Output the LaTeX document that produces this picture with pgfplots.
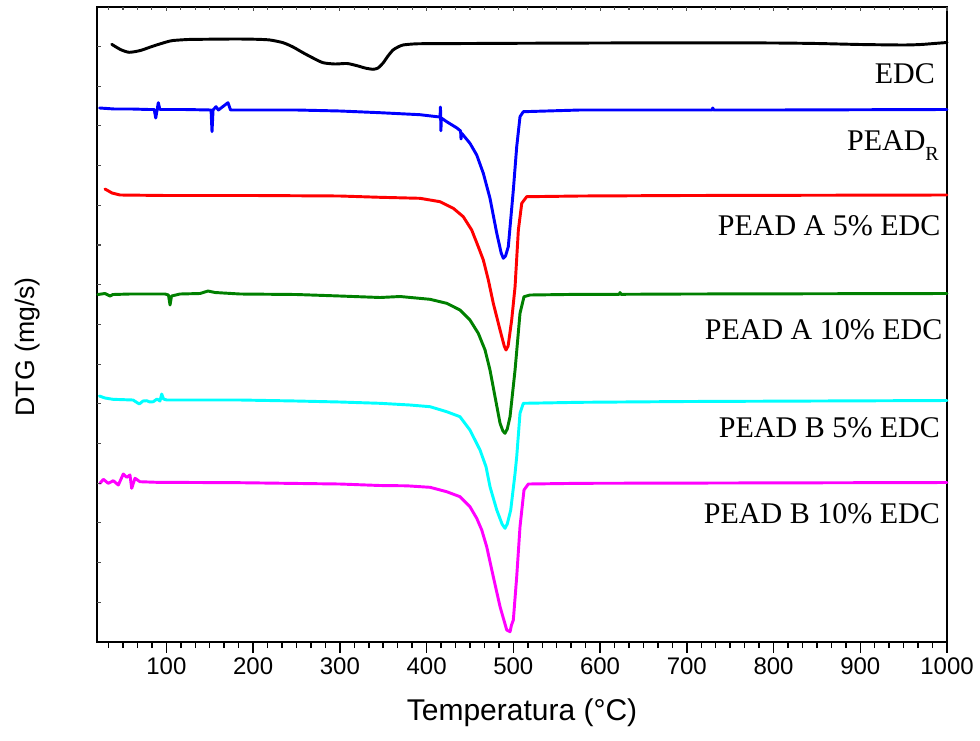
\documentclass[border=0pt]{standalone}
\usepackage{fontspec}
\setmainfont{Liberation Serif}
\newfontfamily\arial{Liberation Sans}
\usepackage{pgfplots}
\pgfplotsset{compat=1.18}
\definecolor{dgreen}{RGB}{0,128,0}
\definecolor{pcyan}{RGB}{0,255,255}
\definecolor{pmagenta}{RGB}{255,0,255}
\definecolor{pblue}{RGB}{0,0,255}
\definecolor{pred}{RGB}{255,0,0}
\begin{document}
\begin{tikzpicture}
\begin{axis}[
  scale only axis, width=637.5pt, height=476.25pt,
  xmin=20, xmax=1000, ymin=-642, ymax=-7,
  axis line style={line width=1.5pt},
  xtick={0,100,...,1000}, minor x tick num=5,
  xtick pos=bottom, tick align=outside,
  ytick=\empty,
  major tick length=8pt, minor tick length=4.5pt,
  every tick/.style={black, line width=1.1pt},
  ticklabel style={font=\arial\fontsize{18}{18}\selectfont},
  /pgf/number format/assume math mode=true,
  /pgf/number format/1000 sep={},
  xlabel={Temperatura (°C)},
  xlabel style={font=\arial\fontsize{22.5}{22.5}\selectfont, at={(axis description cs:0.5,-0.112)}, anchor=center},
  ylabel={DTG (mg/s)},
  ylabel style={font=\arial\fontsize{20}{20}\selectfont, at={(axis description cs:-0.0812,0.465)}, anchor=center},
  clip=false,
  every axis plot/.append style={line width=2.2pt, line join=round, line cap=round},
]
% EDC
\addplot[black, smooth, tension=0.4] coordinates {
(37,-44.3)(47,-49.5)(57,-52.3)(70,-50.5)(85,-46)(100,-42)(107.6,-40.5)(125,-39.5)(140,-39.3)(180,-39)(204.5,-39.3)(219.5,-40)(234.5,-42.7)(246,-47)(257.5,-52.7)(269,-58)(280.6,-62.7)(294.4,-64)(308.3,-63.5)(319.8,-65.7)(329,-68)(338.2,-69.3)(344,-68)(349.8,-63)(355.5,-56)(361.3,-50)(367,-47)(372.8,-45)(384.3,-44)(395.9,-43.7)(450,-43.5)(500,-43.3)(600,-43)(700,-42.8)(800,-43)(850,-43.5)(900,-44.5)(950,-45)(970,-44.5)(985,-43.5)(1000,-42.5)
};
% PEAD_R
\addplot[pblue] coordinates {
(23,-108)(40,-109)(60,-109)(80,-109.5)(86,-109.5)(87.7,-118)(89.5,-109)(90.7,-102.7)(92.5,-109.5)(120,-109.5)(151.5,-110)(152.6,-131.7)(153.8,-110)(157.2,-106.7)(160,-110)(171,-102.7)(174,-110)(200,-110)(250,-110)(300,-111)(346.3,-112.7)(392.4,-114.7)(412,-116.7)(415.5,-117)(416,-107)(416.5,-130.7)(417,-118)(423.2,-121.7)(435,-128)(439.2,-131)(439.7,-139)(440.5,-133.3)(450,-143.3)(457.8,-155)(465.4,-173.3)(473.1,-198.3)(480.9,-233.3)(486,-253)(488.5,-258.3)(491,-256)(494.2,-246.7)(500,-190)(503.9,-146.7)(507.7,-116.7)(511.5,-111.7)(576.9,-110)(700,-110)(729,-110)(730,-108)(731,-110)(800,-110)(1000,-109.5)
};
% PEAD A 5% EDC
\addplot[pred] coordinates {
(29.2,-189)(37.3,-193)(46.5,-195)(100,-195.5)(200,-195.5)(300,-196)(346.3,-197.3)(392.4,-198.3)(415.5,-201.7)(430.8,-208.3)(442.3,-216.7)(452,-230)(459.6,-246.7)(465.4,-260)(471.2,-280)(476.9,-303.3)(484.7,-330)(489.5,-346)(491.6,-350)(494,-346)(498.1,-320)(502,-286.7)(505.8,-230)(509.7,-203.3)(515.4,-196.7)(577,-196)(700,-195.5)(1000,-195)
};
% PEAD A 10% EDC
\addplot[dgreen] coordinates {
(21,-294.5)(29.2,-293.5)(35,-296)(38.4,-294.5)(58,-294)(81,-294)(98.4,-294)(102.4,-295)(104.2,-305)(105.9,-296)(115.7,-294)(138.8,-293.5)(148,-291)(156,-292.5)(184.9,-294)(250,-294.5)(300,-296)(346.3,-297.5)(369.4,-296.5)(404,-299.3)(423.2,-303.3)(438.5,-310)(450,-320)(459.6,-333.3)(467.4,-350)(473.1,-370)(478.9,-396.7)(484.7,-423.3)(488,-431)(490.4,-433.3)(493,-429)(496.2,-416.7)(502,-370)(507.7,-313.3)(512.3,-296.7)(519.2,-295)(577,-294.3)(622,-294.3)(623,-292.5)(624,-294.3)(700,-294)(1000,-293.5)
};
% PEAD B 5% EDC
\addplot[pcyan] coordinates {
(22.7,-396)(29.2,-398)(38.4,-399.3)(61.5,-400)(68.8,-404)(73,-401)(77.3,-400.7)(81,-402)(84.9,-401.7)(89.2,-399)(92.6,-401)(94.6,-394)(96.7,-399)(100.4,-400)(184.9,-400)(250,-401)(300,-402)(346.3,-403.3)(380.9,-405)(404,-406.7)(423.2,-411.7)(438.5,-416.7)(450,-430)(461.6,-450)(468.5,-466.7)(473.1,-486.7)(480.9,-510)(487,-524)(490.4,-528.3)(493,-524)(497,-510)(502,-473.3)(503.9,-456.7)(507.7,-413.3)(511.5,-403.3)(577,-402.3)(700,-401.5)(1000,-400.5)
};
% PEAD B 10% EDC
\addplot[pmagenta] coordinates {
(23.5,-483.3)(27.3,-479.3)(33,-483.3)(38.8,-480.7)(44.6,-485)(50.3,-474)(54.2,-477.3)(58,-475)(60,-488.3)(63.8,-478.3)(69.6,-481.7)(88.8,-482.3)(184.9,-482.7)(300,-484)(346.3,-485.5)(377,-485.8)(404,-487.3)(423.2,-491.7)(438.5,-496.7)(450,-506.7)(457.8,-518.3)(463.6,-530)(469.3,-546.7)(476.9,-576.7)(484.7,-606.7)(492.4,-630)(496.2,-631.7)(497.9,-625)(500,-620)(503.9,-576.7)(507.7,-526.7)(512.3,-490)(517.3,-484)(577,-483.3)(1000,-482.5)
};
\begin{scope}[font=\fontsize{22.5}{22.5}\selectfont]
\node[anchor=base east, inner sep=0pt] at (axis cs:986.2,-84) {EDC};
\node[anchor=base east, inner sep=0pt] at (axis cs:990.8,-150.7) {PEAD\raisebox{-7pt}{\fontsize{15}{15}\selectfont R}};
\node[anchor=base east, inner sep=0pt] at (axis cs:992.7,-235) {PEAD A 5\% EDC};
\node[anchor=base east, inner sep=0pt] at (axis cs:995,-339) {PEAD A 10\% EDC};
\node[anchor=base east, inner sep=0pt] at (axis cs:992,-437) {PEAD B 5\% EDC};
\node[anchor=base east, inner sep=0pt] at (axis cs:992,-523) {PEAD B 10\% EDC};
\end{scope}
\end{axis}
\begin{axis}[
  scale only axis, width=637.5pt, height=476.25pt,
  xmin=20, xmax=1000, ymin=-642, ymax=-7,
  axis line style={draw=none},
  tick align=inside,
  xtick={0,100,...,1000}, minor x tick num=5, xtick pos=top,
  ytick={-602.3,-562.6,...,-46.5}, ytick pos=left,
  xticklabels={}, yticklabels={},
  major tick length=3pt, minor tick length=2.5pt,
  every tick/.style={black!70, line width=0.8pt},
]
\end{axis}
\pgfresetboundingbox
\path[use as bounding box] ([xshift=-72.75pt,yshift=-73.5pt]current axis.south west) rectangle ([xshift=24.75pt,yshift=5.25pt]current axis.north east);
\end{tikzpicture}
\end{document}
